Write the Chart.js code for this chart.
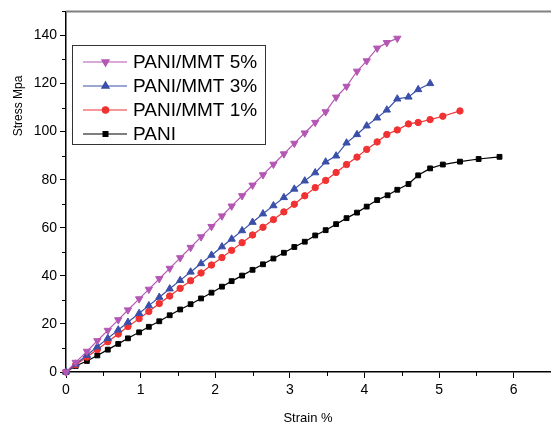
<!DOCTYPE html>
<html>
<head>
<meta charset="utf-8">
<script src="https://cdn.jsdelivr.net/npm/chart.js@4.4.0/dist/chart.umd.min.js"></script>
<style>
  html, body { margin: 0; padding: 0; background: #fff; }
  #wrap { width: 551px; height: 426px; }
</style>
</head>
<body>
<div id="wrap"><canvas id="stress_strain"></canvas></div>
<script>
const strainPani = [0, 0.13, 0.28, 0.42, 0.56, 0.70, 0.83, 0.98, 1.11, 1.25, 1.39, 1.53, 1.67, 1.81, 1.95, 2.09, 2.22, 2.36, 2.50, 2.64, 2.78, 2.92, 3.06, 3.20, 3.34, 3.48, 3.62, 3.76, 3.90, 4.03, 4.17, 4.31, 4.44, 4.59, 4.72, 4.88, 5.05, 5.28, 5.53, 5.81];
const stressPani = [0, 2.5, 4.6, 6.9, 9.3, 11.7, 14.0, 16.5, 18.8, 21.1, 23.6, 26.0, 28.2, 30.6, 33.0, 35.5, 37.8, 40.1, 42.5, 44.8, 47.2, 49.6, 52.0, 54.2, 56.8, 59.0, 61.5, 64.0, 66.3, 68.8, 71.5, 73.5, 75.8, 78.2, 81.8, 84.7, 86.3, 87.5, 88.6, 89.5];

const strainMmt1 = [0, 0.13, 0.28, 0.42, 0.56, 0.70, 0.83, 0.98, 1.11, 1.25, 1.39, 1.53, 1.67, 1.81, 1.95, 2.09, 2.22, 2.36, 2.50, 2.64, 2.78, 2.92, 3.06, 3.20, 3.34, 3.48, 3.62, 3.76, 3.90, 4.03, 4.17, 4.30, 4.44, 4.59, 4.72, 4.88, 5.05, 5.28];
const stressMmt1 = [0, 3.0, 6.2, 9.4, 12.6, 15.8, 18.9, 22.2, 25.2, 28.5, 31.6, 34.8, 38.0, 41.2, 44.5, 47.6, 50.6, 53.8, 57.0, 60.2, 63.4, 66.6, 69.8, 73.3, 76.7, 79.7, 83.0, 86.3, 89.4, 92.6, 95.7, 98.8, 100.7, 103.2, 103.8, 105.0, 106.4, 108.6];

const strainMmt3 = [0, 0.13, 0.28, 0.42, 0.56, 0.70, 0.83, 0.98, 1.11, 1.25, 1.39, 1.53, 1.67, 1.81, 1.95, 2.09, 2.22, 2.36, 2.50, 2.64, 2.78, 2.92, 3.06, 3.20, 3.34, 3.48, 3.62, 3.76, 3.90, 4.03, 4.17, 4.30, 4.44, 4.59, 4.72, 4.88];
const stressMmt3 = [0, 3.3, 7.0, 10.5, 14.0, 17.5, 20.7, 24.4, 27.6, 31.1, 34.6, 38.1, 41.6, 45.1, 48.6, 52.1, 55.3, 58.8, 62.3, 65.8, 69.2, 72.6, 76.1, 79.5, 82.9, 87.4, 89.9, 95.3, 98.8, 102.4, 105.7, 109.0, 113.6, 114.4, 117.5, 120.0];

const strainMmt5 = [0, 0.13, 0.28, 0.42, 0.56, 0.70, 0.83, 0.98, 1.11, 1.25, 1.39, 1.53, 1.67, 1.81, 1.95, 2.09, 2.22, 2.36, 2.50, 2.64, 2.78, 2.92, 3.06, 3.20, 3.34, 3.48, 3.62, 3.76, 3.90, 4.03, 4.17, 4.30, 4.44];
const stressMmt5 = [0, 4.0, 8.6, 13.0, 17.3, 21.7, 25.8, 30.4, 34.4, 38.8, 43.1, 47.5, 51.8, 56.2, 60.5, 64.9, 69.0, 73.3, 77.7, 82.0, 86.4, 90.7, 95.1, 99.4, 103.8, 108.2, 114.3, 118.8, 125.1, 129.4, 134.7, 137.0, 138.8];

const seriesLabels = ["PANI/MMT 5%", "PANI/MMT 3%", "PANI/MMT 1%", "PANI"];

const toPoints = (xs, ys) => xs.map((x, i) => ({ x: x, y: ys[i] }));

const FONT = "'Liberation Sans', Arial, sans-serif";

// legend box, axis titles, top frame line and minor ticks
const extras = {
  id: "extras",
  afterDraw(chart) {
    const ctx = chart.ctx;
    const area = chart.chartArea;
    const xs = chart.scales.x;
    const ys = chart.scales.y;
    ctx.save();

    // top frame
    ctx.strokeStyle = "#808080";
    ctx.lineWidth = 2;
    ctx.beginPath();
    ctx.moveTo(area.left, area.top);
    ctx.lineTo(551, area.top);
    ctx.stroke();

    // minor ticks
    ctx.strokeStyle = "#000";
    ctx.lineWidth = 1;
    xs.ticks.forEach((t) => {
      if (Number.isInteger(t.value)) return;
      const px = Math.round(xs.getPixelForValue(t.value)) + 0.5;
      ctx.beginPath();
      ctx.moveTo(px, area.bottom);
      ctx.lineTo(px, area.bottom + 4);
      ctx.stroke();
    });
    ys.ticks.forEach((t) => {
      if (t.value % 20 === 0) return;
      const py = Math.round(ys.getPixelForValue(t.value)) + 0.5;
      ctx.beginPath();
      ctx.moveTo(area.left, py);
      ctx.lineTo(area.left - 4, py);
      ctx.stroke();
    });

    // axis titles
    ctx.fillStyle = "#000";
    ctx.font = "13px " + FONT;
    ctx.textAlign = "center";
    ctx.textBaseline = "middle";
    ctx.fillText("Strain %", 308, 418);
    ctx.save();
    ctx.translate(19, 106);
    ctx.rotate(-Math.PI / 2);
    ctx.font = "12px " + FONT;
    ctx.fillText("Stress Mpa", 0, 0);
    ctx.restore();

    // legend
    ctx.fillStyle = "#fff";
    ctx.fillRect(72, 45, 193, 99);
    ctx.strokeStyle = "#333";
    ctx.lineWidth = 1;
    ctx.strokeRect(72.5, 45.5, 193, 99);
    chart.data.datasets.forEach((ds, i) => {
      const y = 62 + i * 24;
      ctx.strokeStyle = ds.borderColor;
      ctx.lineWidth = 1.2;
      ctx.beginPath();
      ctx.moveTo(83, y);
      ctx.lineTo(127, y);
      ctx.stroke();
      ctx.fillStyle = ds.borderColor;
      Chart.helpers.drawPoint(ctx, {
        pointStyle: ds.pointStyle,
        rotation: ds.pointRotation || 0,
        radius: ds.pointRadius,
        borderWidth: 1,
      }, 105.5, y);
      ctx.fillStyle = "#000";
      ctx.font = "19px " + FONT;
      ctx.textAlign = "left";
      ctx.textBaseline = "middle";
      ctx.fillText(ds.label, 133, y + 1);
    });
    ctx.restore();
  },
};

const makeSet = (label, xs, ys, color, style, radius, rotation) => ({
  label: label,
  data: toPoints(xs, ys),
  borderColor: color,
  backgroundColor: color,
  pointBackgroundColor: color,
  pointBorderColor: color,
  borderWidth: 1.2,
  pointStyle: style,
  pointRadius: radius,
  pointRotation: rotation,
  pointBorderWidth: 1,
  tension: 0,
  clip: false,
});

const ctx = document.getElementById("stress_strain");
new Chart(ctx, {
  type: "line",
  data: {
    datasets: [
      makeSet(seriesLabels[0], strainMmt5, stressMmt5, "#b457b4", "triangle", 4.2, 180),
      makeSet(seriesLabels[1], strainMmt3, stressMmt3, "#3a50a8", "triangle", 4.2, 0),
      makeSet(seriesLabels[2], strainMmt1, stressMmt1, "#f03232", "circle", 3.2, 0),
      makeSet(seriesLabels[3], strainPani, stressPani, "#000000", "rect", 3.4, 0),
    ],
  },
  options: {
    responsive: true,
    maintainAspectRatio: false,
    animation: false,
    layout: { autoPadding: false, padding: { top: 10, right: 0, left: 0, bottom: 0 } },
    plugins: {
      legend: { display: false },
      tooltip: { enabled: false },
    },
    scales: {
      x: {
        type: "linear",
        min: 0,
        max: 6.5,
        afterFit: (scale) => {
          scale.height = 54;
          scale.paddingRight = 0;
        },
        border: { color: "#000", width: 1.5 },
        grid: {
          drawOnChartArea: false,
          tickLength: 6,
          tickColor: (c) => (c.tick && Number.isInteger(c.tick.value) ? "#000" : "rgba(0,0,0,0)"),
        },
        ticks: {
          stepSize: 0.5,
          autoSkip: false,
          maxRotation: 0,
          padding: 4,
          color: "#000",
          font: { family: FONT, size: 14 },
          callback: (v) => (Number.isInteger(v) ? v : ""),
        },
      },
      y: {
        min: 0,
        max: 150,
        afterFit: (scale) => { scale.width = 66; },
        border: { color: "#000", width: 1.5 },
        grid: {
          drawOnChartArea: false,
          tickLength: 6,
          tickColor: (c) => (c.tick && c.tick.value % 20 === 0 ? "#000" : "rgba(0,0,0,0)"),
        },
        ticks: {
          stepSize: 10,
          autoSkip: false,
          padding: 3,
          color: "#000",
          font: { family: FONT, size: 14 },
          callback: (v) => (v % 20 === 0 ? v : ""),
        },
      },
    },
  },
  plugins: [extras],
});
</script>
</body>
</html>
